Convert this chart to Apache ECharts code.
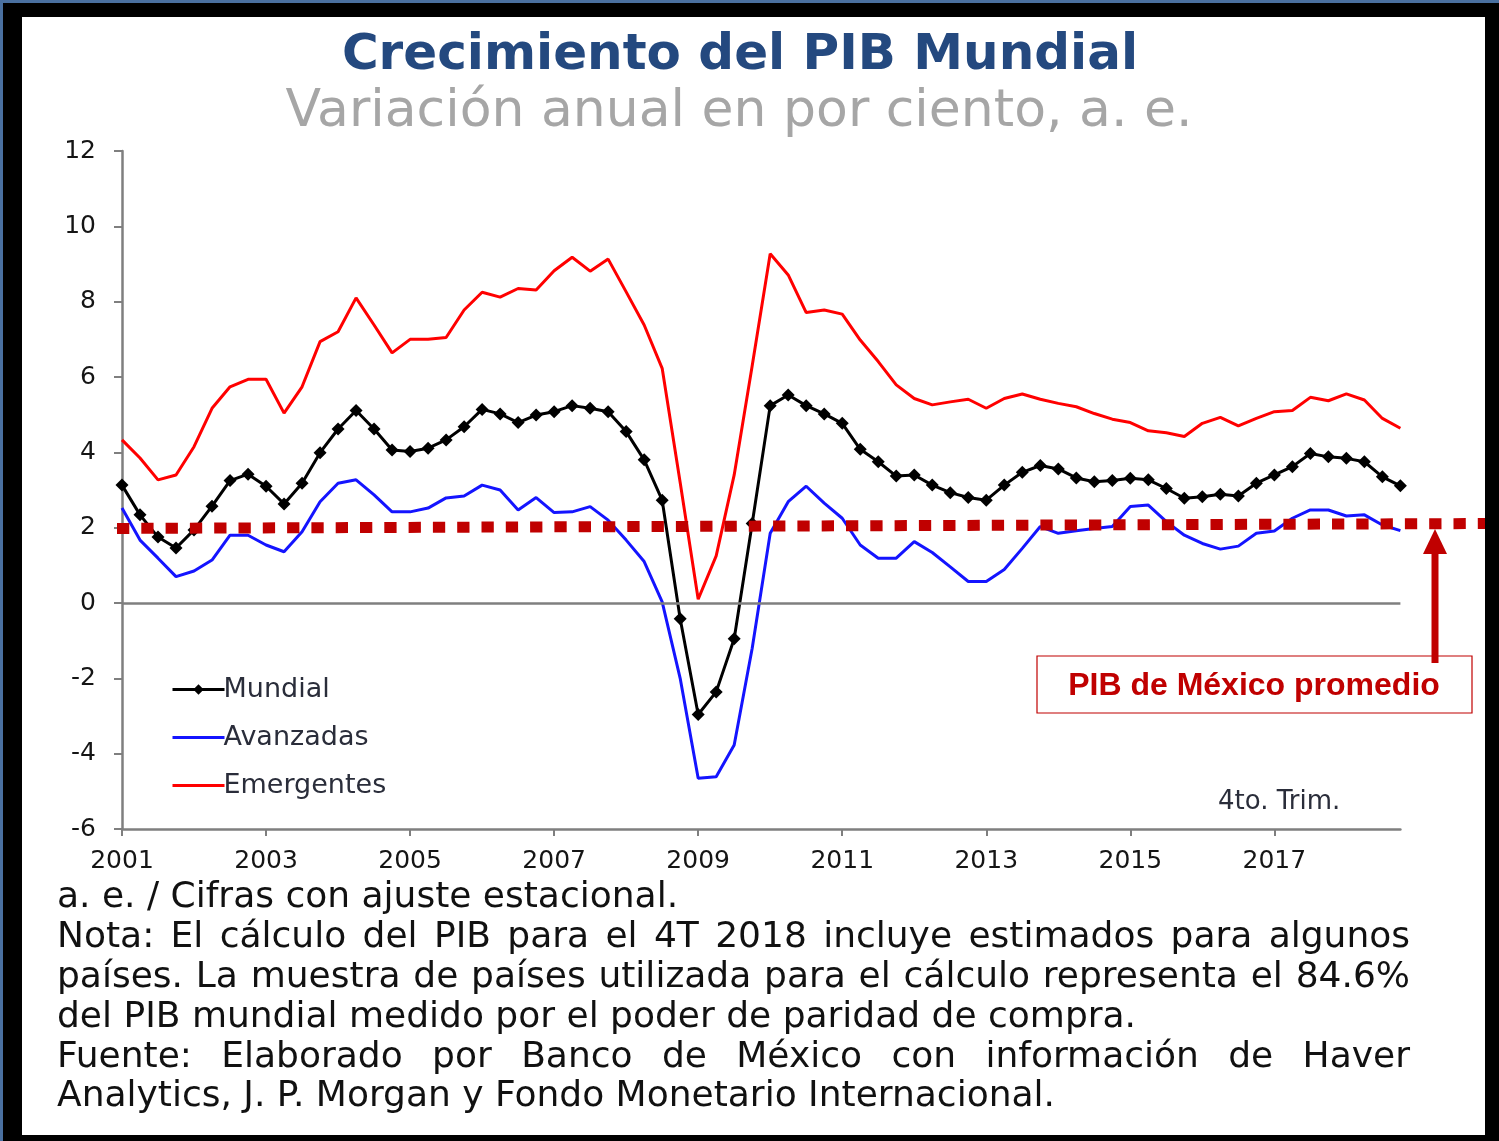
<!DOCTYPE html>
<html><head><meta charset="utf-8">
<script src="https://cdn.jsdelivr.net/npm/echarts@6/dist/echarts.min.js"></script>
<style>
html,body{margin:0;padding:0;background:#fff;}
#frame{position:absolute;left:0;top:0;width:1499px;height:1141px;background:#4a70a0;}
#blk{position:absolute;left:3px;top:3px;width:1496px;height:1138px;background:#000;}
#wht{position:absolute;left:22px;top:17px;width:1463px;height:1118px;background:#fff;}
#chart{position:absolute;left:0;top:0;width:1499px;height:1141px;}
</style></head><body>
<div id="frame"></div><div id="blk"></div><div id="wht"></div>
<div id="chart"></div>
<script>
// ---- data ----
const years = [2001,2002,2003,2004,2005,2006,2007,2008,2009,2010,2011,2012,2013,2014,2015,2016,2017,2018];
const quarters = ['T1','T2','T3','T4'];
const categories = years.flatMap(y => quarters.map(q => y + q));

const mundial = [3.13,2.34,1.75,1.46,1.94,2.57,3.25,3.42,3.10,2.63,
  3.18,3.99,4.62,5.11,4.62,4.06,4.02,4.11,4.33,4.68,
  5.14,5.02,4.79,4.99,5.08,5.24,5.17,5.08,4.55,3.80,
  2.73,-0.42,-2.96,-2.36,-0.95,2.11,5.24,5.52,5.24,5.02,
  4.77,4.08,3.75,3.37,3.40,3.13,2.93,2.80,2.73,3.13,
  3.47,3.65,3.56,3.32,3.22,3.25,3.31,3.27,3.04,2.78,
  2.82,2.89,2.84,3.18,3.40,3.62,3.97,3.88,3.84,3.75,
  3.35,3.11];
const avanzadas = [2.52,1.67,1.19,0.70,0.85,1.14,1.80,1.80,1.54,1.36,
  1.89,2.69,3.18,3.27,2.87,2.42,2.42,2.52,2.79,2.84,
  3.13,3.00,2.47,2.80,2.40,2.42,2.56,2.20,1.67,1.10,
  0.03,-2.00,-4.65,-4.61,-3.77,-1.20,1.85,2.69,3.10,2.65,
  2.25,1.54,1.19,1.19,1.63,1.34,0.96,0.57,0.57,0.89,
  1.45,2.03,1.85,1.92,1.98,2.03,2.56,2.60,2.16,1.80,
  1.58,1.43,1.51,1.85,1.91,2.25,2.47,2.47,2.31,2.34,
  2.07,1.92];
const emergentes = [4.33,3.85,3.27,3.40,4.15,5.17,5.74,5.94,5.94,5.04,
  5.74,6.94,7.20,8.10,7.38,6.64,7.00,7.00,7.05,7.78,
  8.25,8.12,8.35,8.31,8.82,9.18,8.81,9.13,8.26,7.38,
  6.23,3.20,0.10,1.25,3.40,6.30,9.27,8.71,7.71,7.78,
  7.67,6.98,6.41,5.79,5.43,5.26,5.34,5.41,5.17,5.43,
  5.55,5.41,5.30,5.21,5.03,4.88,4.79,4.57,4.52,4.42,
  4.77,4.93,4.70,4.90,5.08,5.11,5.46,5.37,5.55,5.39,
  4.90,4.64];
// Mexico average GDP reference (start and end of the dotted line)
const mexAvg = [1.98, 2.11];
const yMin = -6, yMax = 12, yStep = 2;

const titleText = 'Crecimiento del PIB Mundial';
const subtitleText = 'Variación anual en por ciento, a. e.';
const annotText = 'PIB de México promedio';
const noteTrim = '4to. Trim.';
const footLines = [
  {t:'a. e. / Cifras con ajuste estacional.', j:false},
  {t:'Nota: El cálculo del PIB para el 4T 2018 incluye estimados para algunos', j:true},
  {t:'países. La muestra de países utilizada para el cálculo representa el 84.6%', j:true},
  {t:'del PIB mundial medido por el poder de paridad de compra.', j:false},
  {t:'Fuente: Elaborado por Banco de México con información de Haver', j:true},
  {t:'Analytics, J. P. Morgan y Fondo Monetario Internacional.', j:false}
];

// ---- footnote layout (justified lines) ----
const FF = '"DejaVu Sans"';
const footFont = '36px ' + FF;
const mctx = document.createElement('canvas').getContext('2d');
mctx.font = footFont;
const footLeft = 57, footRight = 1410, footTop = 898, footStep = 39.8;
const footGraphics = [];
footLines.forEach((ln, k) => {
  const y = footTop + k * footStep;
  if (!ln.j) {
    footGraphics.push({type:'text', x:footLeft, y:y, silent:true,
      style:{text:ln.t, font:footFont, fill:'#111111', verticalAlign:'middle', align:'left'}});
  } else {
    const words = ln.t.split(' ');
    const ws = words.map(w => mctx.measureText(w).width);
    const total = ws.reduce((a,b)=>a+b,0);
    const gap = (footRight - footLeft - total) / (words.length - 1);
    let x = footLeft;
    words.forEach((w,i) => {
      footGraphics.push({type:'text', x:x, y:y, silent:true,
        style:{text:w, font:footFont, fill:'#111111', verticalAlign:'middle', align:'left'}});
      x += ws[i] + gap;
    });
  }
});

const chart = echarts.init(document.getElementById('chart'), null, {renderer:'canvas'});
const gridTop = 151, gridBottom = 312;

chart.setOption({
  backgroundColor: 'transparent',
  animation: false,
  title: [
    {text: titleText, left: 735, top: 26, textAlign: 'center',
     textStyle: {fontFamily: FF, fontWeight: 'bold', fontSize: 50, color: '#24497f'}},
    {text: subtitleText, left: 734, top: 81, textAlign: 'center',
     textStyle: {fontFamily: FF, fontWeight: 'normal', fontSize: 52, color: '#a6a6a6'}}
  ],
  legend: {
    data: [
      {name: 'Mundial', lineStyle: {width: 3}},
      {name: 'Avanzadas', itemStyle: {opacity: 0}, lineStyle: {width: 3}},
      {name: 'Emergentes', itemStyle: {opacity: 0}, lineStyle: {width: 3}}
    ],
    orient: 'vertical', left: 166, top: 671,
    itemWidth: 52, itemHeight: 13, itemGap: 21,
    textStyle: {fontFamily: FF, fontSize: 27, lineHeight: 27, color: '#2a2d3a', padding:[0,0,0,-6]},
    selectedMode: false
  },
  grid: [
    {left: 122, right: 98.6, top: gridTop, bottom: gridBottom, containLabel: false},
    {left: 117, right: 14, top: gridTop, bottom: gridBottom, containLabel: false}
  ],
  xAxis: [
    {type: 'category', gridIndex: 0, data: categories, boundaryGap: false,
     axisLine: {onZero: false, lineStyle: {color: '#7f7f7f', width: 2.5}},
     axisTick: {show: true, interval: 7, length: 7, lineStyle: {color: '#7f7f7f', width: 2}},
     axisLabel: {interval: 7, formatter: v => v.slice(0,4), fontFamily: FF, fontSize: 25,
                 color: '#151515', margin: 20},
     splitLine: {show: false}},
    {type: 'value', gridIndex: 1, min: 0, max: 1, show: false}
  ],
  yAxis: [
    {type: 'value', gridIndex: 0, min: yMin, max: yMax, interval: yStep,
     axisLine: {show: true, lineStyle: {color: '#7f7f7f', width: 2.5}},
     axisTick: {show: true, length: 8, lineStyle: {color: '#7f7f7f', width: 2}},
     axisLabel: {fontFamily: FF, fontSize: 25, color: '#151515', margin: 26},
     splitLine: {show: false}},
    {type: 'value', gridIndex: 1, min: yMin, max: yMax, show: false}
  ],
  series: [
    {name: 'Emergentes', type: 'line', data: emergentes, symbol: 'none',
     lineStyle: {color: '#ff0000', width: 3}, itemStyle: {color: '#ff0000'}, z: 2,
     emphasis: {disabled: true},
     markLine: {silent: true, symbol: 'none', label: {show: false},
       lineStyle: {color: '#7f7f7f', width: 2.5, type: 'solid'},
       data: [{yAxis: 0}]}},
    {name: 'Avanzadas', type: 'line', data: avanzadas, symbol: 'none',
     lineStyle: {color: '#1414ff', width: 3}, itemStyle: {color: '#1414ff'}, z: 3,
     emphasis: {disabled: true}},
    {name: 'Mundial', type: 'line', data: mundial, symbol: 'diamond', symbolSize: 13,
     showAllSymbol: true,
     lineStyle: {color: '#000', width: 3}, itemStyle: {color: '#000'}, z: 4,
     emphasis: {disabled: true}},
    {name: 'PIB México promedio', type: 'line', xAxisIndex: 1, yAxisIndex: 1,
     data: [[0, mexAvg[0]], [1, mexAvg[1]]], symbol: 'none', silent: true,
     lineStyle: {color: '#c00000', width: 11, type: [12.3, 12], cap: 'butt'}, z: 10,
     emphasis: {disabled: true}}
  ],
  graphic: [
    {type: 'text', x: 1218, y: 802, silent: true,
     style: {text: noteTrim, font: '26px ' + FF, fill: '#2a2d3a', verticalAlign: 'middle'}},
    {type: 'rect', shape: {x: 1037, y: 656, width: 435, height: 57}, silent: true, z: 20,
     style: {fill: '#ffffff', stroke: '#c00000', lineWidth: 1.2}},
    {type: 'text', x: 1254, y: 686, silent: true, z: 21,
     style: {text: annotText, font: 'bold 32px "Liberation Sans"', fill: '#c00000',
             align: 'center', verticalAlign: 'middle'}},
    {type: 'line', shape: {x1: 1435, y1: 663, x2: 1435, y2: 550}, silent: true, z: 21,
     style: {stroke: '#c00000', lineWidth: 7}},
    {type: 'polygon', shape: {points: [[1423, 554], [1447, 554], [1435, 529]]}, silent: true, z: 21,
     style: {fill: '#c00000'}}
  ].concat(footGraphics)
});
</script>
</body></html>
